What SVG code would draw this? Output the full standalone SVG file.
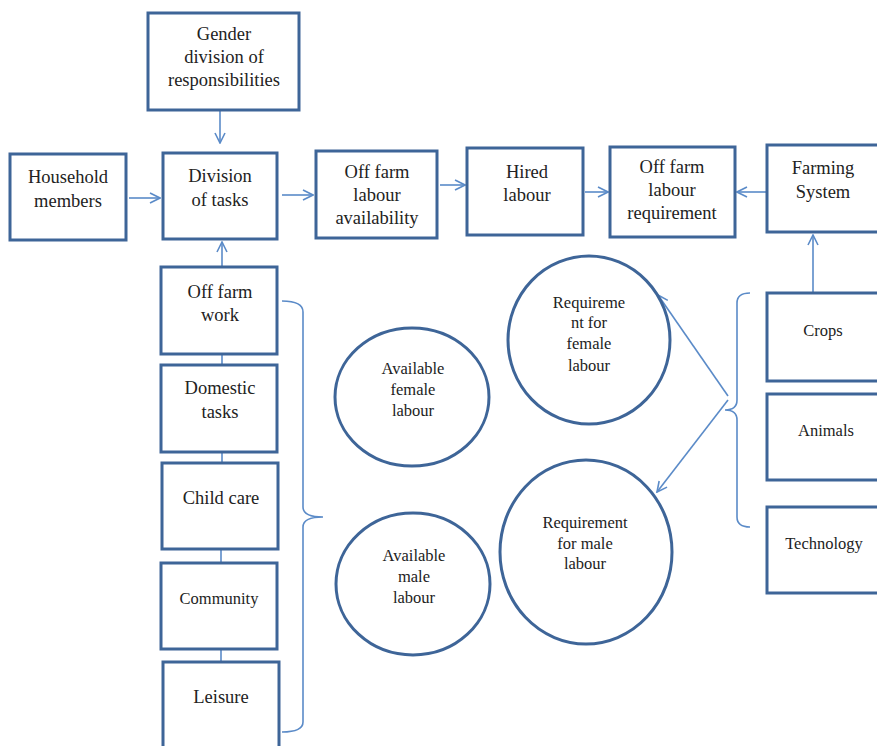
<svg xmlns="http://www.w3.org/2000/svg" width="877" height="746" viewBox="0 0 877 746">
<style>
.box{fill:#fff;stroke:#3E6598;stroke-width:3}
.circ{fill:#fff;stroke:#3E6598;stroke-width:3}
.con{fill:none;stroke:#5B8BC8;stroke-width:1.6}
text{font-family:"Liberation Serif","Times New Roman",serif;fill:#222;text-anchor:middle}
.t{font-size:18.5px}
.s{font-size:16.5px}
</style>
<defs>
<marker id="ah" viewBox="0 0 12 12" refX="11" refY="6" markerWidth="12" markerHeight="12" markerUnits="userSpaceOnUse" orient="auto">
<path d="M1,1 L11,6 L1,11" fill="none" stroke="#5B8BC8" stroke-width="1.6"/>
</marker>
</defs>
<rect width="877" height="746" fill="#fff"/>
<g id="connectors">
<line class="con" x1="220" y1="111" x2="220" y2="143" marker-end="url(#ah)"/>
<line class="con" x1="129" y1="198" x2="160" y2="198" marker-end="url(#ah)"/>
<line class="con" x1="282" y1="195" x2="313" y2="195" marker-end="url(#ah)"/>
<line class="con" x1="440" y1="185" x2="465" y2="185" marker-end="url(#ah)"/>
<line class="con" x1="585" y1="192" x2="608" y2="192" marker-end="url(#ah)"/>
<line class="con" x1="766" y1="192" x2="737" y2="192" marker-end="url(#ah)"/>
<line class="con" x1="813" y1="292" x2="813" y2="235" marker-end="url(#ah)"/>
<line class="con" x1="222" y1="266" x2="222" y2="242" marker-end="url(#ah)"/>
<line class="con" x1="222" y1="355" x2="222" y2="364"/>
<line class="con" x1="222" y1="453" x2="222" y2="462"/>
<line class="con" x1="221" y1="550" x2="221" y2="562"/>
<line class="con" x1="221" y1="650" x2="221" y2="661"/>
<path class="con" d="M282,301 Q303,301 303,312 L303,507 Q303,517 323,517 Q303,517 303,527 L303,722 Q303,732 282,732"/>
<path class="con" d="M750,293 Q737,293 737,303 L737,400 Q737,410 725,410 Q737,410 737,420 L737,517 Q737,527 750,527"/>
<line class="con" x1="728" y1="396" x2="658" y2="295" marker-end="url(#ah)"/>
<line class="con" x1="728" y1="400" x2="657" y2="492" marker-end="url(#ah)"/>
</g>
<g id="gender">
<rect class="box" x="148" y="13" width="151" height="97"/>
<text class="t" x="224" y="40">Gender</text>
<text class="t" x="224" y="63">division of</text>
<text class="t" x="224" y="86">responsibilities</text>
</g>
<g id="household">
<rect class="box" x="10" y="154" width="116" height="86"/>
<text class="t" x="68" y="183">Household</text>
<text class="t" x="68" y="207">members</text>
</g>
<g id="division">
<rect class="box" x="163" y="153" width="114" height="86"/>
<text class="t" x="220" y="182">Division</text>
<text class="t" x="220" y="206">of tasks</text>
</g>
<g id="offfarm-avail">
<rect class="box" x="316" y="151" width="121" height="87"/>
<text class="t" x="377" y="178">Off farm</text>
<text class="t" x="377" y="201">labour</text>
<text class="t" x="377" y="224">availability</text>
</g>
<g id="hired">
<rect class="box" x="467" y="148" width="116" height="87"/>
<text class="t" x="527" y="178">Hired</text>
<text class="t" x="527" y="201">labour</text>
</g>
<g id="offfarm-req">
<rect class="box" x="610" y="147" width="125" height="90"/>
<text class="t" x="672" y="173">Off farm</text>
<text class="t" x="672" y="196">labour</text>
<text class="t" x="672" y="219">requirement</text>
</g>
<g id="farming">
<rect class="box" x="767" y="145" width="115" height="87"/>
<text class="t" x="823" y="174">Farming</text>
<text class="t" x="823" y="198">System</text>
</g>
<g id="offfarmwork">
<rect class="box" x="161" y="267" width="116" height="87"/>
<text class="t" x="220" y="298">Off farm</text>
<text class="t" x="220" y="321">work</text>
</g>
<g id="domestic">
<rect class="box" x="161" y="365" width="116" height="87"/>
<text class="t" x="220" y="394">Domestic</text>
<text class="t" x="220" y="418">tasks</text>
</g>
<g id="childcare">
<rect class="box" x="162" y="463" width="116" height="86"/>
<text class="t" x="221" y="504">Child care</text>
</g>
<g id="community">
<rect class="box" x="161" y="563" width="116" height="86"/>
<text class="s" x="219" y="604">Community</text>
</g>
<g id="leisure">
<rect class="box" x="163" y="662" width="116" height="90"/>
<text class="t" x="221" y="703">Leisure</text>
</g>
<g id="avail-female">
<ellipse class="circ" cx="412" cy="397" rx="77" ry="69"/>
<text class="s" x="413" y="374">Available</text>
<text class="s" x="413" y="395">female</text>
<text class="s" x="413" y="416">labour</text>
</g>
<g id="avail-male">
<ellipse class="circ" cx="413" cy="584" rx="77" ry="71"/>
<text class="s" x="414" y="561">Available</text>
<text class="s" x="414" y="582">male</text>
<text class="s" x="414" y="603">labour</text>
</g>
<g id="req-female">
<ellipse class="circ" cx="589" cy="340" rx="81" ry="84"/>
<text class="s" x="589" y="308">Requireme</text>
<text class="s" x="589" y="328">nt for</text>
<text class="s" x="589" y="349">female</text>
<text class="s" x="589" y="371">labour</text>
</g>
<g id="req-male">
<ellipse class="circ" cx="586" cy="552" rx="86" ry="92"/>
<text class="s" x="585" y="528">Requirement</text>
<text class="s" x="585" y="549">for male</text>
<text class="s" x="585" y="569">labour</text>
</g>
<g id="crops">
<rect class="box" x="767" y="293" width="115" height="88"/>
<text class="s" x="823" y="336">Crops</text>
</g>
<g id="animals">
<rect class="box" x="767" y="394" width="115" height="86"/>
<text class="s" x="826" y="436">Animals</text>
</g>
<g id="technology">
<rect class="box" x="767" y="507" width="115" height="86"/>
<text class="s" x="824" y="549">Technology</text>
</g>
</svg>
